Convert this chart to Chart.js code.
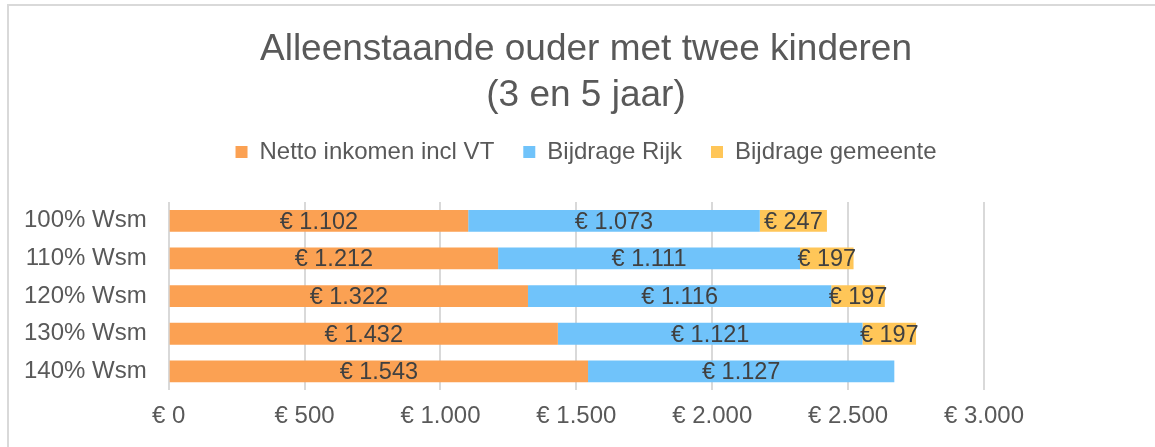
<!DOCTYPE html>
<html>
<head>
<meta charset="utf-8">
<script src="https://cdn.jsdelivr.net/npm/chart.js@4.4.1/dist/chart.umd.min.js"></script>
<style>
  html, body { margin: 0; padding: 0; background: #fff; overflow: hidden; }
  #wrap { position: relative; width: 1170px; height: 447px; }
  #frame { position: absolute; left: 7px; top: 4px; width: 1200px; height: 500px;
           border-left: 2px solid #d9d9d9; border-top: 2px solid #d9d9d9; pointer-events: none; }
</style>
</head>
<body>
<div id="wrap">
  <canvas id="chart" width="1170" height="447"></canvas>
  <div id="frame"></div>
</div>
<script>
const categories = ['100% Wsm', '110% Wsm', '120% Wsm', '130% Wsm', '140% Wsm'];
const nettoInkomen = [1102, 1212, 1322, 1432, 1543];
const bijdrageRijk = [1073, 1111, 1116, 1121, 1127];
const bijdrageGemeente = [247, 197, 197, 197, null];
const xTicks = [0, 500, 1000, 1500, 2000, 2500, 3000];

const FONT = "'Liberation Sans', Arial, sans-serif";

function euro(v) {
  return '€ ' + String(Math.round(v)).replace(/\B(?=(\d{3})+(?!\d))/g, '.');
}

// value labels centered in each bar segment
const segmentLabels = {
  id: 'segmentLabels',
  afterDatasetsDraw(chart) {
    const ctx = chart.ctx;
    ctx.save();
    ctx.font = '23.5px ' + FONT;
    ctx.fillStyle = '#404040';
    ctx.textAlign = 'center';
    ctx.textBaseline = 'middle';
    chart.data.datasets.forEach((ds, i) => {
      chart.getDatasetMeta(i).data.forEach((el, j) => {
        const v = ds.data[j];
        if (v == null) return;
        const p = el.getCenterPoint();
        ctx.fillText(euro(v), p.x, p.y + 1.5);
      });
    });
    ctx.restore();
  }
};

// extra room under the legend
const legendGap = {
  id: 'legendGap',
  beforeInit(chart) {
    const fit = chart.legend.fit;
    chart.legend.fit = function () {
      fit.bind(chart.legend)();
      this.height += 28;
    };
  }
};

new Chart(document.getElementById('chart'), {
  type: 'bar',
  data: {
    labels: categories,
    datasets: [
      { label: 'Netto inkomen incl VT', data: nettoInkomen,     backgroundColor: '#fba153' },
      { label: 'Bijdrage Rijk',         data: bijdrageRijk,     backgroundColor: '#70c3fa' },
      { label: 'Bijdrage gemeente',     data: bijdrageGemeente, backgroundColor: '#ffc658' }
    ]
  },
  options: {
    indexAxis: 'y',
    responsive: false,
    animation: false,
    datasets: { bar: { barPercentage: 0.58, categoryPercentage: 1, borderWidth: 0 } },
    layout: { padding: { top: 0, bottom: 4, left: 2, right: 0 } },
    plugins: {
      title: {
        display: true,
        text: ['Alleenstaande ouder met twee kinderen', '(3 en 5 jaar)'],
        color: '#595959',
        font: { family: FONT, size: 37, weight: 'normal', lineHeight: 1.243 },
        padding: { top: 27, bottom: -8 }
      },
      legend: {
        position: 'top',
        labels: {
          color: '#595959',
          font: { family: FONT, size: 24 },
          boxWidth: 12, boxHeight: 12,
          padding: 29
        }
      },
      tooltip: { enabled: false }
    },
    scales: {
      x: {
        stacked: true,
        min: 0, max: 3000,
        afterBuildTicks: s => { s.ticks = xTicks.map(v => ({ value: v })); },
        ticks: { color: '#595959', font: { family: FONT, size: 24 }, padding: 12, callback: v => euro(v) },
        grid: { color: '#d9d9d9', lineWidth: 2, drawTicks: false },
        border: { display: false }
      },
      y: {
        stacked: true,
        ticks: { color: '#595959', font: { family: FONT, size: 24 }, padding: 22 },
        grid: { display: false, drawTicks: false },
        border: { display: false }
      },
      yRight: {
        type: 'category',
        position: 'right',
        labels: categories,
        ticks: { display: false },
        grid: { display: false, drawTicks: false },
        border: { display: false },
        afterFit: s => { s.width = 186; }
      }
    }
  },
  plugins: [segmentLabels, legendGap]
});
</script>
</body>
</html>
